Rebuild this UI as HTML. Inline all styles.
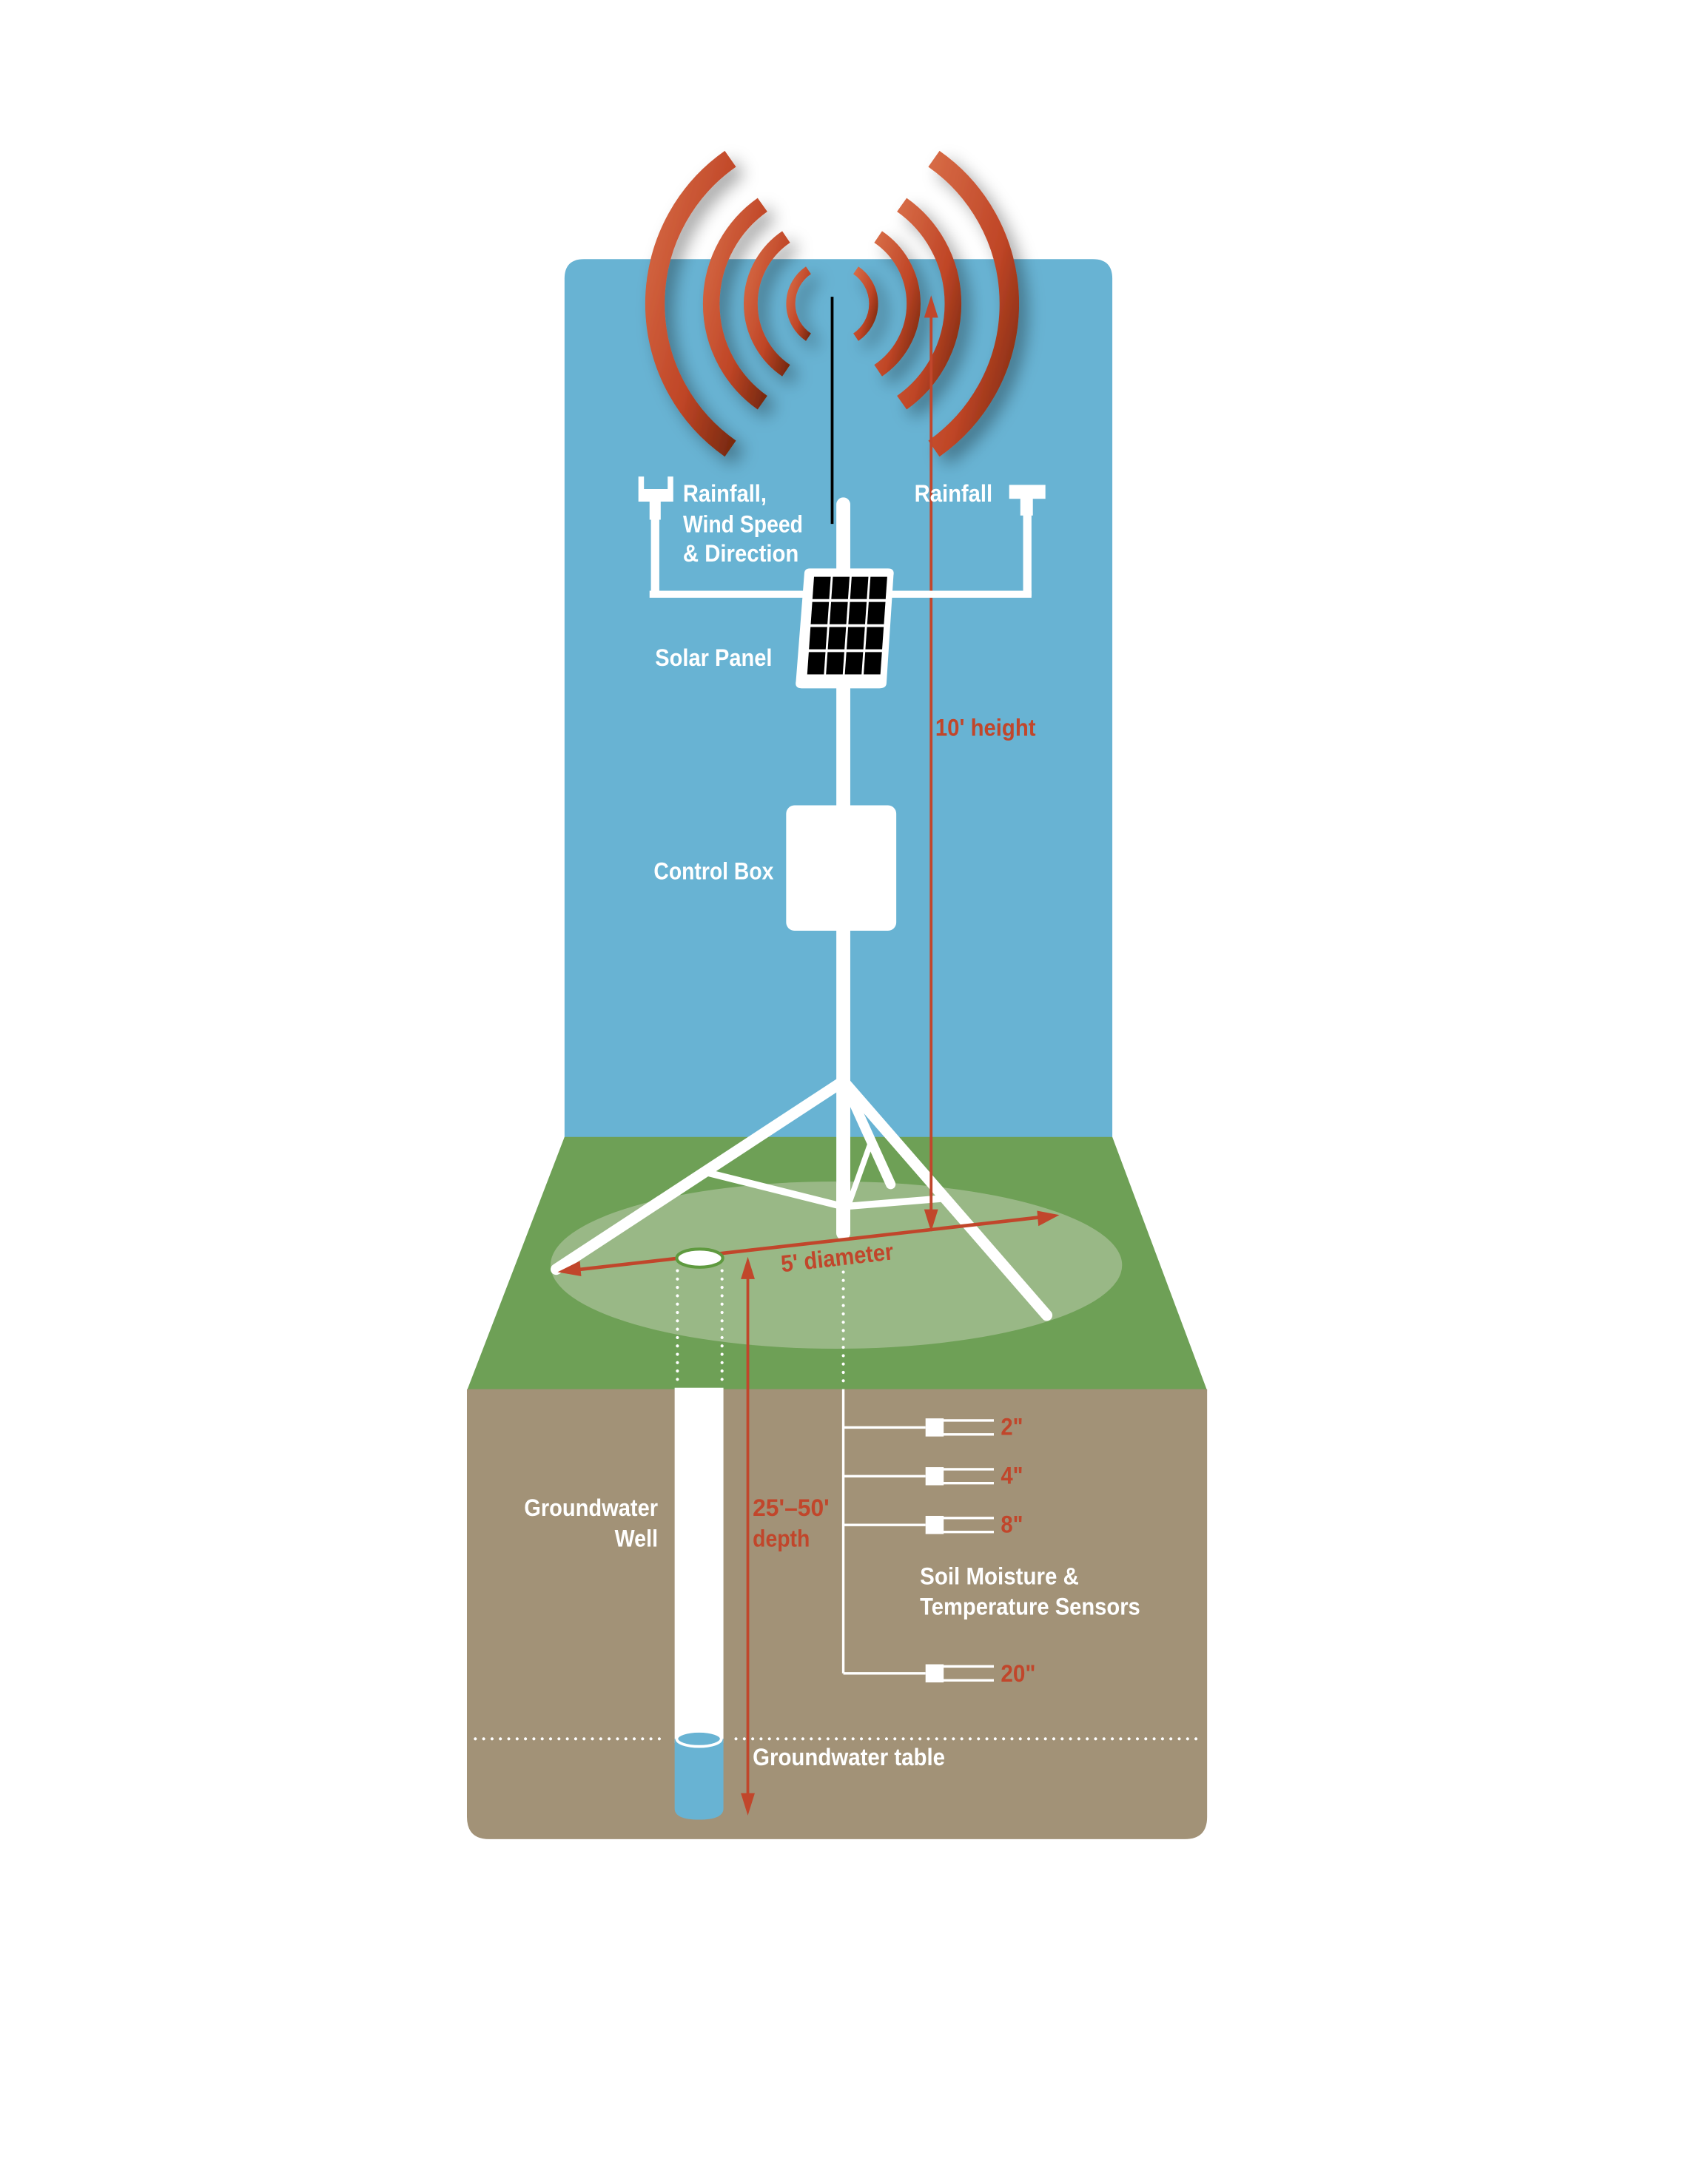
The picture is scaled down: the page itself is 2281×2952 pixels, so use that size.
<!DOCTYPE html>
<html><head><meta charset="utf-8"><style>html,body{margin:0;padding:0;background:#fff}svg{display:block}</style></head>
<body>
<svg width="2281" height="2952" viewBox="0 0 1211 1567.5" preserveAspectRatio="none" xmlns="http://www.w3.org/2000/svg">
<defs>
<filter id="sh" x="-50%" y="-50%" width="200%" height="200%"><feDropShadow dx="6" dy="6" stdDeviation="6" flood-color="#000" flood-opacity="0.35"/></filter>
<linearGradient id="ag" x1="0" y1="0" x2="1" y2="1"><stop offset="0" stop-color="#d66a45"/><stop offset="0.6" stop-color="#bf4526"/><stop offset="1" stop-color="#7a2a10"/></linearGradient>
</defs>
<rect width="1215.3" height="1572.8" fill="#fff"/>
<path d="M405,818 L405,200 Q405,186 419,186 L784,186 Q798,186 798,200 L798,818 Z" fill="#68b3d3"/>
<polygon points="405,816 798,816 866,998 335,998" fill="#6ea056"/>
<path d="M335,997 L866,997 L866,1304 Q866,1320 850,1320 L351,1320 Q335,1320 335,1304 Z" fill="#a29277"/>
<ellipse cx="600" cy="908" rx="205" ry="60" fill="#99b886"/>

<g fill="none" stroke="url(#ag)" stroke-linecap="butt" filter="url(#sh)">
<path d="M524,114 A127,127 0 0 0 524,322" stroke-width="14"/>
<path d="M670,114 A127,127 0 0 1 670,322" stroke-width="14"/>
<path d="M547,147 A87,87 0 0 0 547,289" stroke-width="12"/>
<path d="M647,147 A87,87 0 0 1 647,289" stroke-width="12"/>
<path d="M564,170 A58,58 0 0 0 564,266" stroke-width="10"/>
<path d="M630,170 A58,58 0 0 1 630,266" stroke-width="10"/>
<path d="M580,194 A29,29 0 0 0 580,242" stroke-width="6.5"/>
<path d="M614,194 A29,29 0 0 1 614,242" stroke-width="6.5"/>
</g>
<line x1="597" y1="213" x2="597" y2="376" stroke="#000" stroke-width="2"/>

<line x1="668" y1="222" x2="668" y2="875" stroke="#c1462b" stroke-width="2"/>
<polygon points="668,212 663,228 673,228" fill="#c1462b"/>

<g fill="#fff">
<rect x="466" y="424" width="274" height="5"/>
<rect x="467" y="368" width="6" height="60"/>
<rect x="734" y="368" width="6" height="60"/>
<path d="M458,342 h4 v9 h17 v-9 h4 v18 h-9 v13 h-8 v-13 h-8 z"/>
<rect x="724" y="348" width="26" height="10"/>
<rect x="732" y="357" width="9" height="13"/>
</g>
<line x1="605" y1="362" x2="605" y2="885" stroke="#fff" stroke-width="10" stroke-linecap="round"/>
<path d="M581,408 L637,408 Q642,408 641,413 L636,490 Q636,494 631,494 L575,494 Q570,494 571,489 L577,412 Q577,408 581,408 Z" fill="#fff"/>
<g transform="matrix(1,0,-0.07,1,584,414)" fill="#000">
<rect x="0" y="0" width="12" height="16"/><rect x="13.5" y="0" width="12" height="16"/><rect x="27" y="0" width="12" height="16"/><rect x="40.5" y="0" width="12" height="16"/>
<rect x="0" y="18" width="12" height="16"/><rect x="13.5" y="18" width="12" height="16"/><rect x="27" y="18" width="12" height="16"/><rect x="40.5" y="18" width="12" height="16"/>
<rect x="0" y="36" width="12" height="16"/><rect x="13.5" y="36" width="12" height="16"/><rect x="27" y="36" width="12" height="16"/><rect x="40.5" y="36" width="12" height="16"/>
<rect x="0" y="54" width="12" height="16"/><rect x="13.5" y="54" width="12" height="16"/><rect x="27" y="54" width="12" height="16"/><rect x="40.5" y="54" width="12" height="16"/>
</g>
<rect x="564" y="578" width="79" height="90" rx="6" fill="#fff"/>

<g stroke="#fff" stroke-linecap="round" fill="none">
<line x1="605" y1="776" x2="399" y2="911" stroke-width="8"/>
<line x1="605" y1="776" x2="751" y2="944" stroke-width="8"/>
<line x1="610" y1="786" x2="639" y2="850" stroke-width="7"/>
<line x1="624" y1="822" x2="609" y2="864" stroke-width="4"/>
<line x1="505" y1="841" x2="605" y2="866" stroke-width="5"/>
<line x1="605" y1="866" x2="678" y2="860" stroke-width="5"/>
</g>
<line x1="605" y1="850" x2="605" y2="885" stroke="#fff" stroke-width="10" stroke-linecap="round"/>

<line x1="668" y1="840" x2="668" y2="875" stroke="#c1462b" stroke-width="2"/>
<polygon points="668,884 663,868 673,868" fill="#c1462b"/>

<line x1="408" y1="912" x2="752" y2="873" stroke="#c1462b" stroke-width="2.5"/>
<polygon points="400,913 416,905 417,916" fill="#c1462b"/>
<polygon points="760,872 744,869 745,880" fill="#c1462b"/>

<g stroke="#fff" stroke-width="2.2" stroke-linecap="round" stroke-dasharray="0 6">
<line x1="486" y1="912" x2="486" y2="996"/>
<line x1="518" y1="912" x2="518" y2="996"/>
<line x1="605" y1="913" x2="605" y2="996"/>
<line x1="341" y1="1248" x2="475" y2="1248"/>
<line x1="528" y1="1248" x2="862" y2="1248"/>
</g>
<ellipse cx="502" cy="903" rx="16.5" ry="6.5" fill="#fff" stroke="#5f9a3f" stroke-width="2.2"/>
<rect x="484" y="996" width="35" height="255" fill="#fff"/>
<path d="M484,1248 L519,1248 L519,1298 Q519,1306 501.5,1306 Q484,1306 484,1298 Z" fill="#68b3d3"/>
<ellipse cx="501.5" cy="1248" rx="16" ry="5.5" fill="#68b3d3" stroke="#fff" stroke-width="2"/>

<line x1="536.5" y1="912" x2="536.5" y2="1292" stroke="#c1462b" stroke-width="2"/>
<polygon points="536.5,902 531.5,918 541.5,918" fill="#c1462b"/>
<polygon points="536.5,1303 531.5,1287 541.5,1287" fill="#c1462b"/>

<g stroke="#fff" stroke-width="1.8" fill="none">
<path d="M605,997 V1201"/>
<path d="M605,1024.5 H664 M605,1059.5 H664 M605,1094.5 H664 M605,1201 H664"/>
<path d="M676,1019.5 H713 M676,1029.5 H713 M676,1054.5 H713 M676,1064.5 H713 M676,1089.5 H713 M676,1099.5 H713 M676,1196 H713 M676,1206 H713"/>
</g>
<g fill="#fff">
<rect x="664" y="1018" width="13" height="13"/>
<rect x="664" y="1053" width="13" height="13"/>
<rect x="664" y="1088" width="13" height="13"/>
<rect x="664" y="1194.5" width="13" height="13"/>
</g>

<g font-family="'Liberation Sans Narrow','Liberation Sans',sans-serif" font-weight="bold" font-size="17" fill="#fff">
<text x="490" y="360" textLength="60" lengthAdjust="spacingAndGlyphs">Rainfall,</text>
<text x="490" y="382" textLength="86" lengthAdjust="spacingAndGlyphs">Wind Speed</text>
<text x="490" y="403" textLength="83" lengthAdjust="spacingAndGlyphs">&amp; Direction</text>
<text x="656" y="360" textLength="56" lengthAdjust="spacingAndGlyphs">Rainfall</text>
<text x="470" y="478" textLength="84" lengthAdjust="spacingAndGlyphs">Solar Panel</text>
<text x="469" y="631" textLength="86" lengthAdjust="spacingAndGlyphs">Control Box</text>
<text x="376" y="1088" textLength="96" lengthAdjust="spacingAndGlyphs">Groundwater</text>
<text x="441" y="1110" textLength="31" lengthAdjust="spacingAndGlyphs">Well</text>
<text x="660" y="1137" textLength="114" lengthAdjust="spacingAndGlyphs">Soil Moisture &amp;</text>
<text x="660" y="1159" textLength="158" lengthAdjust="spacingAndGlyphs">Temperature Sensors</text>
<text x="540" y="1267" textLength="138" lengthAdjust="spacingAndGlyphs">Groundwater table</text>
</g>
<g font-family="'Liberation Sans Narrow','Liberation Sans',sans-serif" font-weight="bold" font-size="17" fill="#c1462b">
<text x="671" y="528" textLength="72" lengthAdjust="spacingAndGlyphs">10' height</text>
<text x="540" y="1088" textLength="55" lengthAdjust="spacingAndGlyphs">25'–50'</text>
<text x="540" y="1110" textLength="41" lengthAdjust="spacingAndGlyphs">depth</text>
<text x="718" y="1030" textLength="16" lengthAdjust="spacingAndGlyphs">2"</text>
<text x="718" y="1065" textLength="16" lengthAdjust="spacingAndGlyphs">4"</text>
<text x="718" y="1100" textLength="16" lengthAdjust="spacingAndGlyphs">8"</text>
<text x="718" y="1207" textLength="25" lengthAdjust="spacingAndGlyphs">20"</text>
<text x="561" y="913" transform="rotate(-6.5 561 913)" textLength="81" lengthAdjust="spacingAndGlyphs">5' diameter</text>
</g>
</svg>
</body></html>
